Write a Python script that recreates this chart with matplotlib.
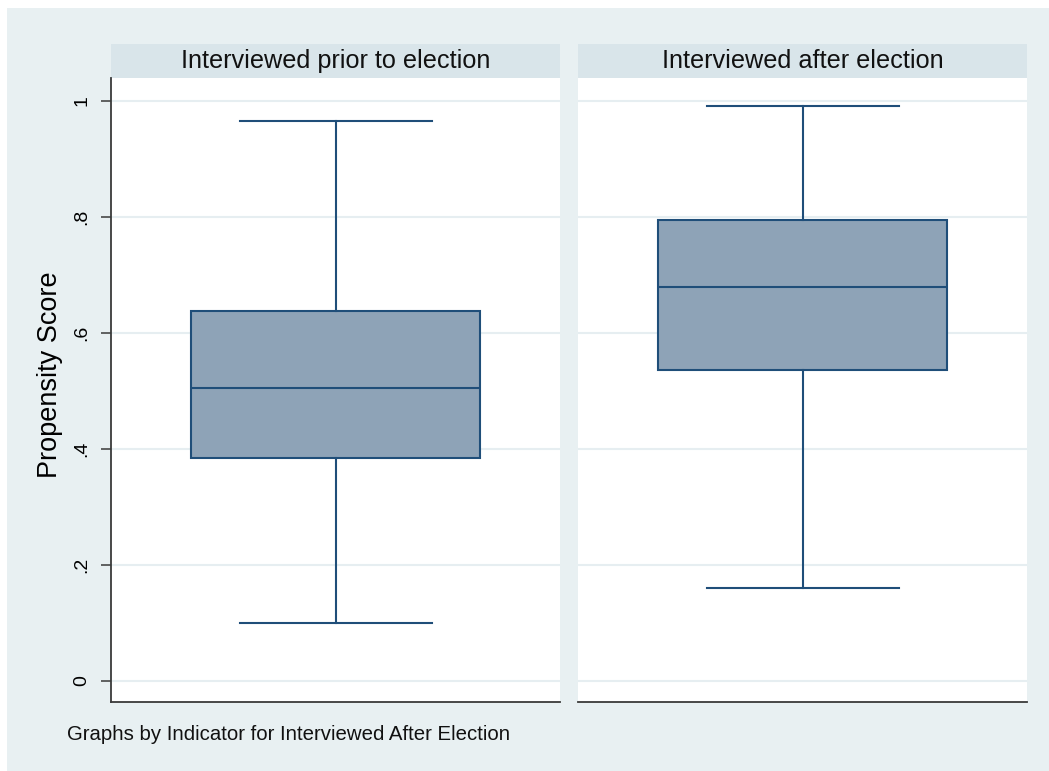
import matplotlib.pyplot as plt
from matplotlib.patches import Rectangle

plt.rcParams["font.family"] = ["Liberation Sans", "DejaVu Sans"]

# box summaries per interview group
groups = ["Interviewed prior to election", "Interviewed after election"]
whisker_low = [0.100, 0.160]
quartile_1 = [0.384, 0.537]
medians = [0.506, 0.679]
quartile_3 = [0.638, 0.795]
whisker_high = [0.966, 0.992]

y_ticks = [0, 0.2, 0.4, 0.6, 0.8, 1.0]
y_tick_labels = ["0", ".2", ".4", ".6", ".8", "1"]

BG = "#E8F0F2"
STRIP = "#D9E5EA"
GRID = "#E6EEF1"
FILL = "#8EA3B7"
EDGE = "#1F4E79"
SPINE = "#3A3A3A"

W, H = 1049, 771
fig = plt.figure(figsize=(W / 100, H / 100), dpi=100)
fig.patch.set_facecolor("white")
fig.patches.append(Rectangle((7 / W, 0), 1, 1 - 8 / H, transform=fig.transFigure,
                             facecolor=BG, edgecolor="none", zorder=-10))

panel_left = [111, 578]
panel_w = 449
bottom_px, top_px = 702, 78
strip_top = 44

axes = []
for i, name in enumerate(groups):
    ax = fig.add_axes([panel_left[i] / W, 1 - bottom_px / H,
                       panel_w / W, (bottom_px - top_px) / H])
    ax.set_facecolor("white")
    stats = [{
        "whislo": whisker_low[i], "q1": quartile_1[i], "med": medians[i],
        "q3": quartile_3[i], "whishi": whisker_high[i], "fliers": [],
    }]
    ax.bxp(stats, positions=[0.5], widths=[289 / panel_w], capwidths=[192 / panel_w],
           patch_artist=True, showfliers=False,
           boxprops=dict(facecolor=FILL, edgecolor=EDGE, linewidth=1.5),
           medianprops=dict(color=EDGE, linewidth=1.5),
           whiskerprops=dict(color=EDGE, linewidth=1.5),
           capprops=dict(color=EDGE, linewidth=1.5),
           zorder=3)
    ax.set_xlim(0, 1)
    ax.set_ylim(-0.0362, 1.0397)
    ax.set_xticks([])
    ax.set_yticks(y_ticks)
    for y in y_ticks:
        ax.axhline(y, color=GRID, linewidth=1.5, zorder=1)
    for side in ("top", "right"):
        ax.spines[side].set_visible(False)
    ax.spines["bottom"].set_color(SPINE)
    ax.spines["bottom"].set_linewidth(1.3)
    if i == 0:
        ax.spines["left"].set_color(SPINE)
        ax.spines["left"].set_linewidth(1.3)
        ax.set_yticklabels(y_tick_labels, rotation=90, va="center", fontsize=14)
        ax.tick_params(axis="y", direction="out", length=7, width=1.1,
                       color=SPINE, pad=8)
        ax.set_ylabel("Propensity Score", fontsize=19.5)
        ax.yaxis.set_label_coords(-0.108, 0.524)
    else:
        ax.spines["left"].set_visible(False)
        ax.tick_params(axis="y", left=False, labelleft=False)
    # facet header strip
    strip_h = (top_px - strip_top) / (bottom_px - top_px)
    ax.add_patch(Rectangle((0, 1), 1, strip_h, transform=ax.transAxes,
                           facecolor=STRIP, edgecolor="none", clip_on=False))
    ax.text(0.5, 1 + strip_h / 2, name, transform=ax.transAxes,
            ha="center", va="center", fontsize=18.2, color="#111111")
    axes.append(ax)

fig.text(67 / W, 1 - 740 / H, "Graphs by Indicator for Interviewed After Election",
         fontsize=14.7, va="baseline", ha="left", color="#111111")

fig.savefig("out.png", dpi=100, facecolor=fig.get_facecolor())
